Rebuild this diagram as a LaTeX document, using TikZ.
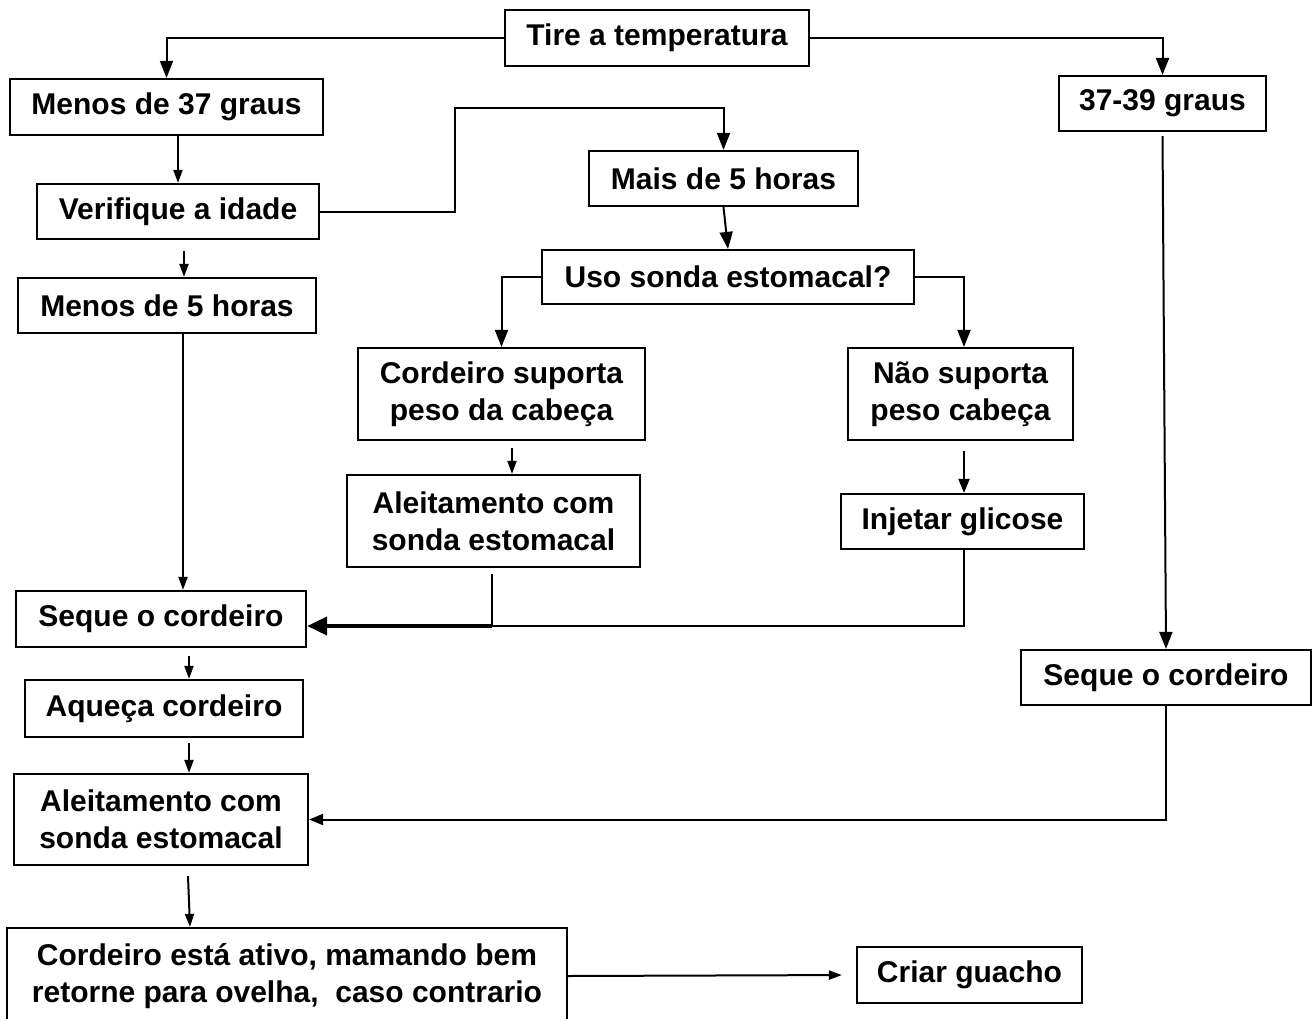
\documentclass[tikz,border=0pt]{standalone}
\usepackage{fontspec}
\setmainfont{Liberation Sans}
\usetikzlibrary{arrows.meta,calc}
\begin{document}
\begin{tikzpicture}[x=1pt,y=-1pt,
  box/.style={draw,line width=2.2pt,inner sep=0pt,align=center,
    font=\fontsize{30}{37}\selectfont\bfseries},
  ln/.style={line width=2pt},
  big/.style={ln,-{Triangle[width=13pt,length=17pt]}},
  med/.style={ln,-{Triangle[width=11pt,length=14pt]}},
  sm/.style={ln,-{Triangle[width=9pt,length=13pt]}},
  thickarr/.style={line width=4pt,-{Triangle[width=18pt,length=20pt]}}]
\fill[white] (0,0) rectangle (1316,1019);
\useasboundingbox (0,0) rectangle (1316,1019);

\node[box,minimum width=304pt,minimum height=56pt] (tire) at (657,38) {Tire a temperatura};
\node[box,minimum width=313pt,minimum height=56pt] (m37) at (166.5,107) {Menos de 37 graus};
\node[box,minimum width=207pt,minimum height=55pt] (g3739) at (1162.5,103.5) {37-39 graus};
\node[box,minimum width=282pt,minimum height=55pt] (verif) at (178,211.5) {Verifique a idade};
\node[box,minimum width=269pt,minimum height=55pt] (mais5) at (723.5,178.5) {Mais de 5 horas};
\node[box,minimum width=372pt,minimum height=54pt] (uso) at (728,277) {Uso sonda estomacal?};
\node[box,minimum width=298pt,minimum height=55pt] (menos5) at (167,305.5) {Menos de 5 horas};
\node[box,minimum width=287pt,minimum height=92pt] (suporta) at (501.5,394) {Cordeiro suporta\\peso da cabeça};
\node[box,minimum width=225pt,minimum height=92pt] (naosup) at (960.5,394) {Não suporta\\peso cabeça};
\node[box,minimum width=293pt,minimum height=92pt] (aleitM) at (493.5,521) {Aleitamento com\\sonda estomacal};
\node[box,minimum width=243pt,minimum height=55pt] (injetar) at (962.5,521.5) {Injetar glicose};
\node[box,minimum width=290pt,minimum height=56pt] (sequeL) at (161,619) {Seque o cordeiro};
\node[box,minimum width=290pt,minimum height=55pt] (sequeR) at (1166,677.5) {Seque o cordeiro};
\node[box,minimum width=278pt,minimum height=57pt] (aqueca) at (164,708.5) {Aqueça cordeiro};
\node[box,minimum width=294pt,minimum height=91pt] (aleitL) at (161,819.5) {Aleitamento com\\sonda estomacal};
\node[box,minimum width=560pt,minimum height=96pt] (ativo) at (287,976) {Cordeiro está ativo, mamando bem\\retorne para ovelha,\ \ caso contrario};
\node[box,minimum width=225pt,minimum height=56pt] (criar) at (969.5,975) {Criar guacho};

\coordinate (v1) at (455,108);
\coordinate (j) at (492,626);

\draw[big] (tire.west) -| (m37.north);
\draw[big] (tire.east) -| (g3739.north);
\draw[sm] (verif.north |- m37.south) -- (verif.north);
\draw[big] (verif.east) -| (v1) -| (mais5.north);
\draw[big] (mais5.south) -- (uso.north);
\draw[sm] ([xshift=6pt,yshift=-11pt]verif.south) -- ([xshift=6pt]verif.south |- menos5.north);
\draw[sm] ([xshift=16pt]menos5.south) -- ([xshift=16pt]menos5.south |- sequeL.north);
\draw[big] (uso.west) -| (suporta.north);
\draw[big] (uso.east) -| ([xshift=3.5pt]naosup.north);
\draw[sm] ([xshift=10.5pt,yshift=-7pt]suporta.south) -- ([xshift=10.5pt]suporta.south |- aleitM.north);
\draw[med] ([xshift=3.5pt,yshift=-10pt]naosup.south) -- ([xshift=3.5pt]naosup.south |- injetar.north);
\draw[ln] ([yshift=-6pt]aleitM.south -| j) -- (j);
\draw[ln] ([xshift=1.5pt]injetar.south) |- (j);
\draw[thickarr] (j) -- (j -| sequeL.east);
\draw[big] ([yshift=-4pt]g3739.south) -- (sequeR.north);
\draw[sm] ([xshift=28pt,yshift=-8pt]sequeL.south) -- ([xshift=28pt]sequeL.south |- aqueca.north);
\draw[sm] ([xshift=25pt,yshift=-5pt]aqueca.south) -- ([xshift=25pt]aqueca.south |- aleitL.north);
\draw[med] (sequeR.south) |- (aleitL.east);
\draw[sm] ([xshift=27pt,yshift=-10pt]aleitL.south) -- ([xshift=29pt]aleitL.south |- ativo.north);
\draw[sm,shorten >=14pt] (ativo.east) -- (criar.west);
\end{tikzpicture}
\end{document}
